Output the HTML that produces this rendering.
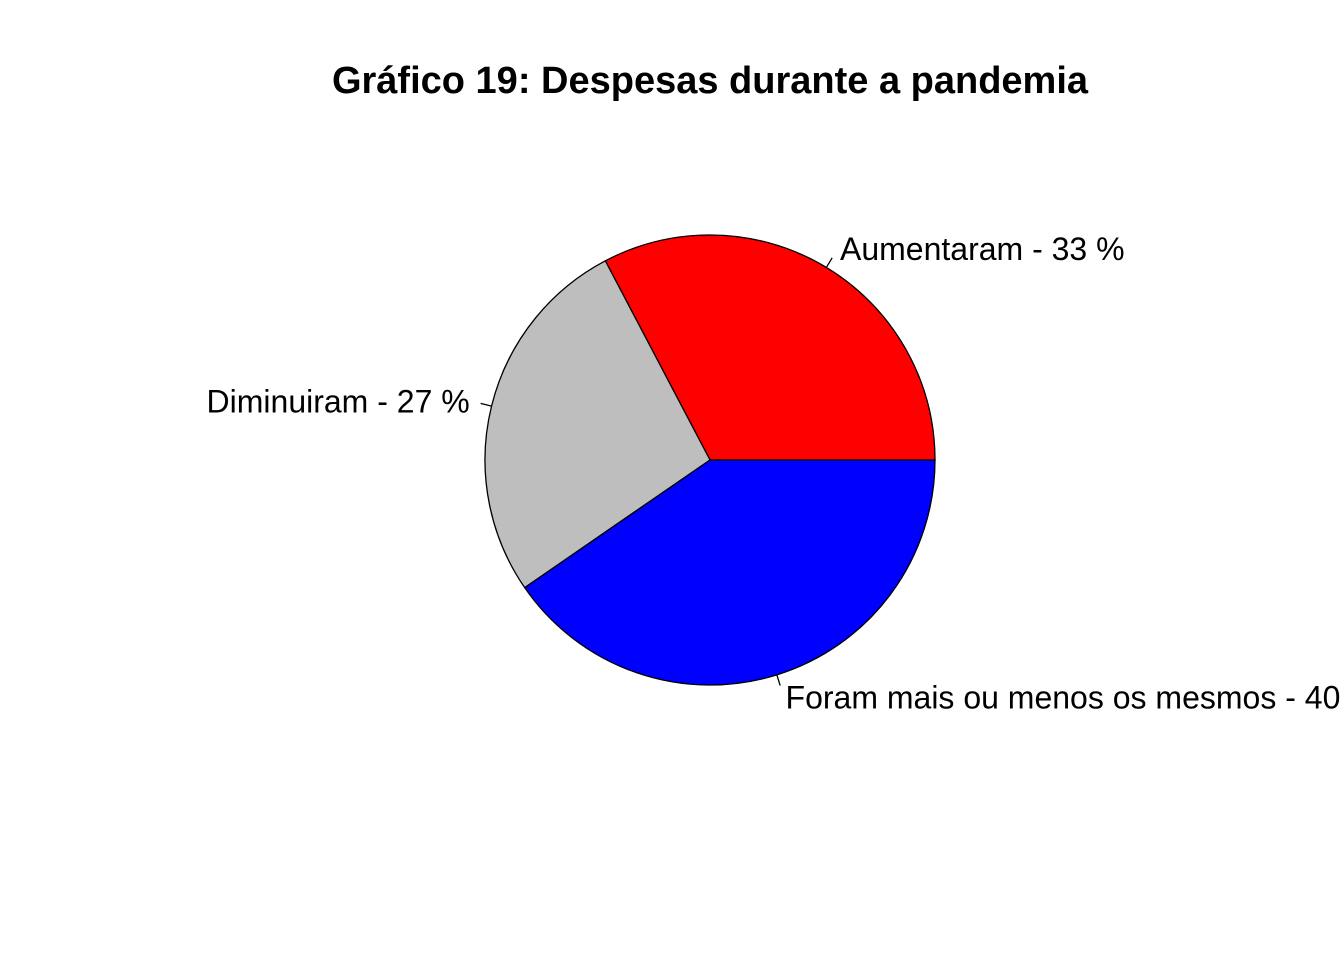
<!DOCTYPE html>
<html><head><meta charset="utf-8"><style>
html,body{margin:0;padding:0;background:#fff;}
svg{display:block;font-family:"Liberation Sans",Arial,sans-serif;}
</style></head><body>
<svg id="chart" width="1344" height="960" viewBox="0 0 1344 960">
<text x="710" y="93" text-anchor="middle" font-size="38" font-weight="bold">Gráfico 19: Despesas durante a pandemia</text>
<g id="slices"></g>
<g id="labels"></g>
</svg>
<script>
const categories = ["Aumentaram", "Diminuiram", "Foram mais ou menos os mesmos"];
const values = [32.7, 26.9, 40.4];
const colors = ["#ff0000", "#bebebe", "#0000ff"];
const cx = 710, cy = 460, r = 225;
const ns = "http://www.w3.org/2000/svg";
const total = values.reduce((a,b)=>a+b,0);
const slicesG = document.getElementById('slices');
const labelsG = document.getElementById('labels');
function pt(a, rr){ return [cx + rr*Math.cos(a), cy - rr*Math.sin(a)]; }
let start = 0;
values.forEach((v,i)=>{
  const sweep = v/total*2*Math.PI;
  const end = start + sweep;
  const [x1,y1] = pt(start,r), [x2,y2] = pt(end,r);
  const large = sweep > Math.PI ? 1 : 0;
  const p = document.createElementNS(ns,'path');
  p.setAttribute('d', `M${cx},${cy} L${x1},${y1} A${r},${r} 0 ${large} 0 ${x2},${y2} Z`);
  p.setAttribute('fill', colors[i]);
  p.setAttribute('stroke', '#000');
  p.setAttribute('stroke-width', '1.3');
  
  
  slicesG.appendChild(p);
  const mid = (start+end)/2;
  const [lx1,ly1] = pt(mid,r), [lx2,ly2] = pt(mid,r*1.05);
  const ln = document.createElementNS(ns,'line');
  ln.setAttribute('x1',lx1); ln.setAttribute('y1',ly1);
  ln.setAttribute('x2',lx2); ln.setAttribute('y2',ly2);
  ln.setAttribute('stroke','#000'); ln.setAttribute('stroke-width','1.3');
  
  
  labelsG.appendChild(ln);
  const [tx,ty] = pt(mid, r*1.1);
  const t = document.createElementNS(ns,'text');
  t.setAttribute('x', tx + (Math.cos(mid)>0 ? 2 : 0));
  t.setAttribute('y', ty + 12);
  t.setAttribute('font-size','32');
  t.setAttribute('text-anchor', Math.cos(mid)>0 ? 'start' : 'end');
  t.textContent = categories[i] + ' - ' + Math.round(v) + ' %';
  
  
  labelsG.appendChild(t);
  start = end;
});
</script>
</body></html>
